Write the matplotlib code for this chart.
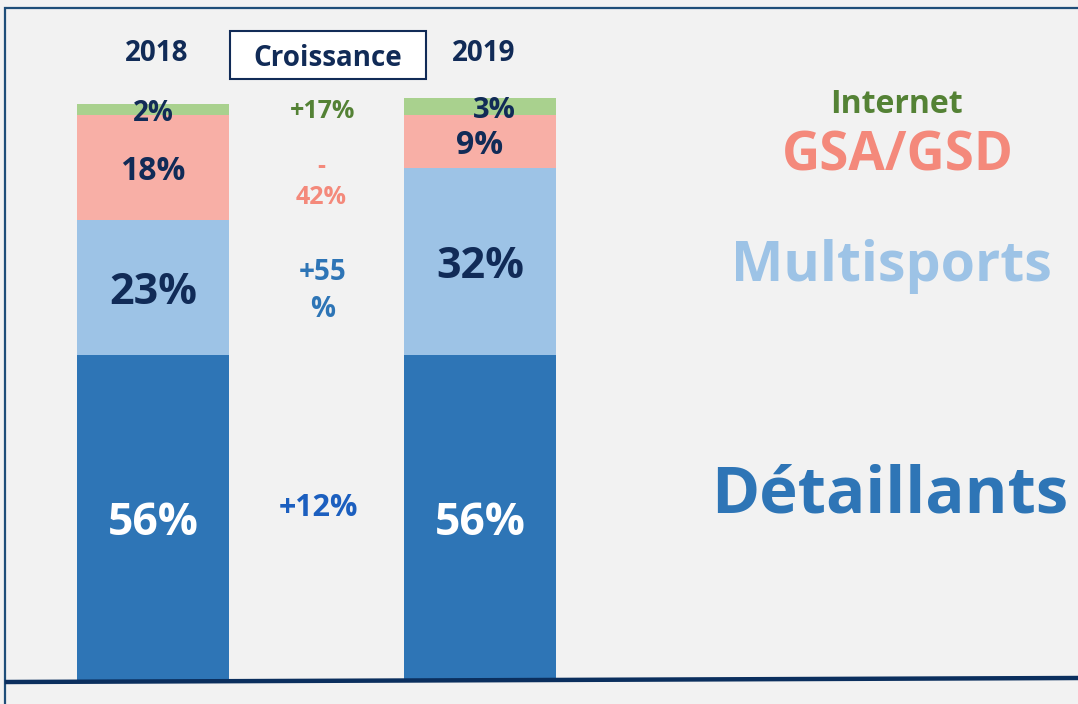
# -*- coding: utf-8 -*-
"""
Répartition des ventes par canal : 2018 vs 2019 (barres empilées 100%)
"""

import matplotlib
matplotlib.use("Agg")
import matplotlib.pyplot as plt
from matplotlib.lines import Line2D
from matplotlib.patches import Rectangle

# ------------------------------------------------------------
# 0) Données
# ------------------------------------------------------------
years = ["2018", "2019"]
segments = ["Détaillants", "Multisports", "GSA/GSD", "Internet"]
share_2018 = [56, 23, 18, 2]
share_2019 = [56, 32, 9, 3]
growth = ["+12%", "+55\n%", "-\n42%", "+17%"]

# ------------------------------------------------------------
# 1) Style
# ------------------------------------------------------------
plt.rcParams["font.family"] = ["Open Sans", "DejaVu Sans"]
plt.rcParams["font.weight"] = "bold"

BG = "#F2F2F2"
NAVY = "#112B57"
seg_colors = ["#2E75B6", "#9DC3E6", "#F8AFA6", "#A9D18E"]
legend_colors = ["#2E75B6", "#9DC3E6", "#F4897B", "#548235"]
growth_colors = ["#1C5FBF", "#2E75B6", "#F4897B", "#548235"]
label_colors = ["white", NAVY, NAVY, NAVY]

# tailles (pt)
label_sizes = {"2018": [32, 31, 23, 20], "2019": [32, 31, 23, 21]}
growth_sizes = [22, 20, 18, 18]
legend_sizes = [47, 40, 38, 23]

# positions de mise en page (unités de données)
BAR_W = 0.465
growth_x = [0.505, 0.52, 0.515, 0.52]
growth_y = [29.6, 66.9, 85.6, 97.6]
legend_x = [2.254, 2.257, 2.278, 2.275]
legend_y = [33.1, 72.2, 91.1, 99.5]
label_dx = {"2018": [0, 0, 0, 0], "2019": [0, 0, 0, 0.043]}

# ------------------------------------------------------------
# 2) Figure
# ------------------------------------------------------------
fig = plt.figure(figsize=(10.78, 7.04), dpi=100, facecolor=BG)
ax = fig.add_axes([0, 0, 1, 1])
ax.set_facecolor(BG)
ax.set_xlim(-153 / 327, (1078 - 153) / 327)
ax.set_ylim(-(704 - 681) / 5.83, 681 / 5.83)
ax.axis("off")

data = {"2018": share_2018, "2019": share_2019}
for xi, year in enumerate(years):
    bottom = 0
    for si, seg in enumerate(segments):
        v = data[year][si]
        ax.bar(xi, v, width=BAR_W, bottom=bottom, color=seg_colors[si],
               linewidth=0, zorder=2)
        ax.text(xi + label_dx[year][si], bottom + v / 2, f"{v}%",
                ha="center", va="center_baseline", color=label_colors[si],
                fontsize=label_sizes[year][si], fontweight="bold", zorder=3)
        bottom += v
    ax.text(xi + 0.012, 108.2, year, ha="center", va="center_baseline",
            color=NAVY, fontsize=20, fontweight="bold")

# colonne croissance
ax.add_patch(Rectangle((0.235, 103.3), 0.6, 8.2, facecolor="white",
                       edgecolor=NAVY, linewidth=1.5, zorder=2))
ax.text(0.535, 107.4, "Croissance", ha="center", va="center_baseline",
        color=NAVY, fontsize=20, fontweight="bold", zorder=3)

for i, g in enumerate(growth):
    ax.text(growth_x[i], growth_y[i], g, ha="center", va="center",
            color=growth_colors[i], fontsize=growth_sizes[i],
            fontweight="bold", linespacing=1.35)

# légende à droite
for i, seg in enumerate(segments):
    ax.text(legend_x[i], legend_y[i], seg, ha="center", va="center_baseline",
            color=legend_colors[i], fontsize=legend_sizes[i], fontweight="bold")

# cadre + ligne de base
fig.add_artist(Line2D([7 / 1078, 1], [1 - 8 / 704, 1 - 8 / 704],
                      color="#1F4E79", linewidth=1.6))
fig.add_artist(Line2D([5 / 1078, 5 / 1078], [0, 1 - 8 / 704],
                      color="#1F4E79", linewidth=1.6))
fig.add_artist(Line2D([7 / 1078, 1], [1 - 682 / 704, 1 - 678 / 704],
                      color="#0B2F5E", linewidth=3.2, zorder=5))

fig.savefig("out.png", dpi=100, facecolor=BG)
